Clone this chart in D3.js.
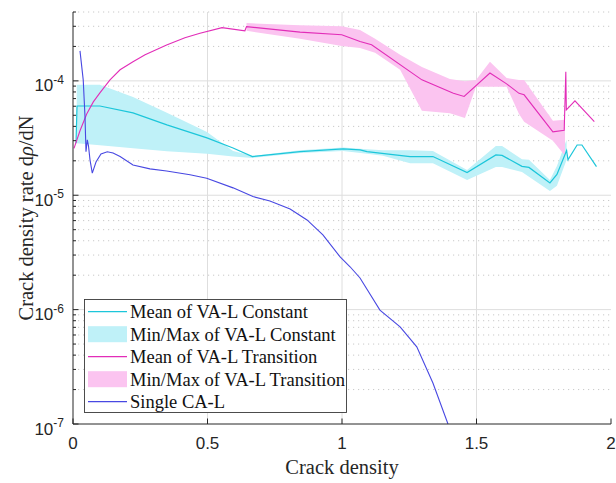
<!DOCTYPE html>
<html>
<head>
<meta charset="utf-8">
<script src="https://cdn.jsdelivr.net/npm/d3@7"></script>
<style>
  html, body { margin: 0; padding: 0; background: #fff; }
  svg { display: block; }
  .tick-lbl { font-family: "Liberation Sans", Arial, sans-serif; font-size: 17px; fill: #262626; }
  .ttl { font-family: "Liberation Serif", "Times New Roman", serif; font-size: 20.5px; fill: #262626; }
  .leg { font-family: "Liberation Serif", "Times New Roman", serif; font-size: 18.5px; fill: #111; }
</style>
</head>
<body>
<svg id="chart" width="616" height="483"></svg>
<script>
// ── data ─────────────────────────────────────────────────────

// Single CA-L
const singleX = [0.026, 0.038, 0.0446, 0.0483, 0.0532, 0.0576, 0.0632, 0.0717, 0.0855, 0.104, 0.1275, 0.149,
  0.175, 0.223, 0.286, 0.348, 0.435, 0.497, 0.595, 0.669, 0.732, 0.807, 0.870, 0.929, 0.993, 1.030, 1.067,
  1.141, 1.216, 1.278, 1.338, 1.394];
const singleY = [1.83e-4, 1.02e-4, 4.88e-5, 2.40e-5, 3.05e-5, 2.70e-5, 2.04e-5, 1.56e-5, 1.95e-5, 2.30e-5, 2.40e-5, 2.34e-5,
  2.18e-5, 1.84e-5, 1.70e-5, 1.63e-5, 1.51e-5, 1.41e-5, 1.16e-5, 9.73e-6, 8.91e-6, 7.59e-6, 6.08e-6, 4.50e-6, 2.89e-6, 2.37e-6, 1.89e-6,
  9.91e-7, 7.08e-7, 4.73e-7, 2.28e-7, 1.0e-7];

// Mean of VA-L Constant
const constX = [0.0112, 0.0149, 0.100, 0.223, 0.349, 0.498, 0.595, 0.667, 0.844, 1.004, 1.067, 1.093, 1.253, 1.338,
  1.465, 1.572, 1.595, 1.669, 1.695, 1.773, 1.799, 1.835, 1.840, 1.874, 1.892, 1.946];
const constY = [2.85e-5, 6.03e-5, 6.03e-5, 5.25e-5, 4.12e-5, 3.17e-5, 2.59e-5, 2.18e-5, 2.41e-5, 2.54e-5, 2.49e-5, 2.41e-5, 2.18e-5, 2.18e-5,
  1.58e-5, 2.25e-5, 2.23e-5, 1.79e-5, 1.75e-5, 1.28e-5, 1.52e-5, 2.46e-5, 2.04e-5, 2.75e-5, 2.75e-5, 1.78e-5];

// Min/Max of VA-L Constant
const constBandX = [0.0138, 0.100, 0.223, 0.349, 0.498, 0.595, 0.667, 0.844, 1.004, 1.093, 1.152, 1.253, 1.338,
  1.465, 1.572, 1.595, 1.669, 1.695, 1.773, 1.799, 1.835];
const constBandLo = [2.85e-5, 2.73e-5, 2.57e-5, 2.42e-5, 2.30e-5, 2.18e-5, 2.12e-5, 2.34e-5, 2.44e-5, 2.30e-5, 2.21e-5, 1.90e-5, 1.90e-5,
  1.36e-5, 1.77e-5, 1.77e-5, 1.60e-5, 1.45e-5, 1.09e-5, 1.21e-5, 2.04e-5];
const constBandHi = [9.23e-5, 9.23e-5, 7.24e-5, 5.25e-5, 3.58e-5, 2.44e-5, 2.21e-5, 2.47e-5, 2.62e-5, 2.52e-5, 2.47e-5, 2.47e-5, 2.44e-5,
  1.66e-5, 2.70e-5, 2.70e-5, 2.06e-5, 2.04e-5, 1.36e-5, 1.80e-5, 3.05e-5];

// Mean of VA-L Transition
const transX = [0.0037, 0.026, 0.0509, 0.0755, 0.100, 0.1375, 0.175, 0.223, 0.268, 0.348, 0.416, 0.472, 0.554,
  0.639, 0.645, 0.844, 0.999, 1.067, 1.110, 1.297, 1.414, 1.454, 1.550, 1.612, 1.658, 1.677, 1.784, 1.826,
  1.832, 1.834, 1.866, 1.938];
const transY = [2.57e-5, 3.66e-5, 5.14e-5, 6.55e-5, 7.85e-5, 1.02e-4, 1.25e-4, 1.47e-4, 1.69e-4, 2.06e-4, 2.38e-4, 2.61e-4, 2.92e-4,
  2.74e-4, 2.98e-4, 2.67e-4, 2.53e-4, 2.21e-4, 2.07e-4, 1.02e-4, 7.80e-5, 7.31e-5, 1.17e-4, 9.41e-5, 7.78e-5, 7.55e-5, 3.58e-5, 3.69e-5,
  1.20e-4, 5.57e-5, 6.68e-5, 4.41e-5];

// Min/Max of VA-L Transition
const transBandX = [0.645, 0.844, 0.999, 1.067, 1.123, 1.216, 1.297, 1.401, 1.457, 1.498, 1.550, 1.612, 1.658, 1.677, 1.784, 1.829];
const transBandLo = [2.74e-4, 2.33e-4, 2.02e-4, 1.94e-4, 1.76e-4, 1.25e-4, 5.47e-5, 5.20e-5, 4.74e-5, 8.87e-5, 8.87e-5, 8.87e-5,
  5.14e-5, 4.38e-5, 2.99e-5, 2.21e-5];
const transBandHi = [3.20e-4, 3.06e-4, 3.00e-4, 2.79e-4, 2.33e-4, 1.69e-4, 1.32e-4, 1.04e-4, 9.90e-5, 1.02e-4, 1.47e-4, 1.06e-4,
  1.02e-4, 1.02e-4, 4.47e-5, 4.56e-5];

// axes
const xTicks = [0, 0.5, 1, 1.5, 2];
const xTickLabels = ['0', '0.5', '1', '1.5', '2'];
const yDecades = [-7, -6, -5, -4];
const yDomain = [1e-7, 4e-4];

const legendLabels = ['Mean of VA-L Constant', 'Min/Max of VA-L Constant', 'Mean of VA-L Transition',
  'Min/Max of VA-L Transition', 'Single CA-L'];

// ── colours ──────────────────────────────────────────────────
const C_CONST = '#1cc6da', C_CONST_FILL = '#bff1f8';
const C_TRANS = '#e22db8', C_TRANS_FILL = '#fbc4f0';
const C_SINGLE = '#4848e2';
const AXIS = '#262626';

const svg = d3.select('#chart');
const L = 73, R = 611, T = 12, B = 424;

const x = d3.scaleLinear().domain([0, 2]).range([L, R]);
const y = d3.scaleLog().domain(yDomain).range([B, T]);

// Grid: minor dotted, major solid
const minorVals = y.ticks().filter(v => {
  const e = Math.log10(v);
  return Math.abs(e - Math.round(e)) > 1e-6;
});
svg.append('g').selectAll('line').data(minorVals).enter().append('line')
  .attr('x1', L).attr('x2', R)
  .attr('y1', d => y(d)).attr('y2', d => y(d))
  .attr('stroke', '#c9c9c9').attr('stroke-width', 1)
  .attr('stroke-dasharray', '1.2,3.8');

svg.append('g').selectAll('line').data(yDecades.slice(1)).enter().append('line')
  .attr('x1', L).attr('x2', R)
  .attr('y1', d => y(Math.pow(10, d))).attr('y2', d => y(Math.pow(10, d)))
  .attr('stroke', '#dedede').attr('stroke-width', 1);

svg.append('g').selectAll('line').data(xTicks.slice(1, -1)).enter().append('line')
  .attr('x1', d => x(d)).attr('x2', d => x(d))
  .attr('y1', T).attr('y2', B)
  .attr('stroke', '#dedede').attr('stroke-width', 1);

// Plot layer with clip
svg.append('clipPath').attr('id', 'clip')
  .append('rect').attr('x', L).attr('y', T).attr('width', R - L).attr('height', B - T);
const plot = svg.append('g').attr('clip-path', 'url(#clip)');

const band = (xs, lo, hi) => d3.area()
  .x((d, i) => x(xs[i])).y0((d, i) => y(lo[i])).y1((d, i) => y(hi[i]))(xs);
const line = (xs, ys) => d3.line()
  .x((d, i) => x(xs[i])).y((d, i) => y(ys[i]))(xs);

plot.append('path').attr('d', band(constBandX, constBandLo, constBandHi))
  .attr('fill', C_CONST_FILL).attr('stroke', 'none');
plot.append('path').attr('d', band(transBandX, transBandLo, transBandHi))
  .attr('fill', C_TRANS_FILL).attr('stroke', 'none');

plot.append('path').attr('d', line(constX, constY))
  .attr('fill', 'none').attr('stroke', C_CONST).attr('stroke-width', 1.2);
plot.append('path').attr('d', line(transX, transY))
  .attr('fill', 'none').attr('stroke', C_TRANS).attr('stroke-width', 1.1);
plot.append('path').attr('d', line(singleX, singleY))
  .attr('fill', 'none').attr('stroke', C_SINGLE).attr('stroke-width', 1.1);

// Axes lines
svg.append('line').attr('x1', L).attr('x2', L).attr('y1', T).attr('y2', B)
  .attr('stroke', AXIS).attr('stroke-width', 1);
svg.append('line').attr('x1', L).attr('x2', R).attr('y1', B).attr('y2', B)
  .attr('stroke', AXIS).attr('stroke-width', 1);

// y ticks (inward)
svg.append('g').selectAll('line').data(minorVals).enter().append('line')
  .attr('x1', L).attr('x2', L + 3).attr('y1', d => y(d)).attr('y2', d => y(d))
  .attr('stroke', AXIS);
svg.append('g').selectAll('line').data(yDecades).enter().append('line')
  .attr('x1', L).attr('x2', L + 5.5).attr('y1', d => y(Math.pow(10, d))).attr('y2', d => y(Math.pow(10, d)))
  .attr('stroke', AXIS);

const yl = svg.append('g').selectAll('text').data(yDecades).enter().append('text')
  .attr('class', 'tick-lbl')
  .attr('x', 64).attr('y', d => y(Math.pow(10, d)) + 10.5)
  .attr('text-anchor', 'end');
yl.append('tspan').text('10');
yl.append('tspan').attr('dy', -7.5).style('font-size', '12px').text(d => '-' + Math.abs(d));

// x ticks
svg.append('g').selectAll('line').data(xTicks).enter().append('line')
  .attr('x1', d => x(d)).attr('x2', d => x(d)).attr('y1', B).attr('y2', B - 5.5)
  .attr('stroke', AXIS);
svg.append('g').selectAll('text').data(xTicks).enter().append('text')
  .attr('class', 'tick-lbl')
  .attr('x', d => x(d)).attr('y', 448.5)
  .attr('text-anchor', 'middle')
  .text((d, i) => xTickLabels[i]);

// Axis titles
svg.append('text').attr('class', 'ttl')
  .attr('x', x(1)).attr('y', 474)
  .attr('text-anchor', 'middle').text('Crack density');

const yt = svg.append('text').attr('class', 'ttl')
  .attr('transform', `translate(33,${(T + B) / 2}) rotate(-90)`)
  .attr('text-anchor', 'middle');
yt.append('tspan').text('Crack density rate d');
yt.append('tspan').style('font-style', 'italic').text('ρ');
yt.append('tspan').text('/dN');

// Legend
const lg = svg.append('g');
lg.append('rect').attr('x', 84.5).attr('y', 299.5).attr('width', 262).attr('height', 113)
  .attr('fill', '#fff').attr('stroke', '#3a3a3a').attr('stroke-width', 0.9);

const legendKinds = [
  { type: 'line', color: C_CONST },
  { type: 'patch', color: C_CONST_FILL },
  { type: 'line', color: C_TRANS },
  { type: 'patch', color: C_TRANS_FILL },
  { type: 'line', color: C_SINGLE }
];
legendLabels.forEach((lab, i) => {
  const cy = 311.7 + i * 22.5;
  const k = legendKinds[i];
  if (k.type === 'line') {
    lg.append('line').attr('x1', 88).attr('x2', 127).attr('y1', cy).attr('y2', cy)
      .attr('stroke', k.color).attr('stroke-width', 1.2);
  } else {
    lg.append('rect').attr('x', 88).attr('y', cy - 8).attr('width', 39).attr('height', 16)
      .attr('fill', k.color);
  }
  lg.append('text').attr('class', 'leg').attr('x', 130).attr('y', cy + 6.5).text(lab);
});
</script>
</body>
</html>
